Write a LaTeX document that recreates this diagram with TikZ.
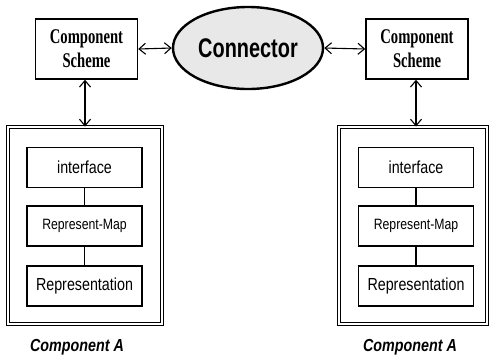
\documentclass[tikz,border=0pt]{standalone}
\usepackage{fontspec}
\usetikzlibrary{arrows.meta,shapes.geometric}
\setmainfont{Liberation Serif}
\newfontfamily\schemefont[FakeStretch=0.7]{Liberation Serif}
\newfontfamily\narrowsans[FakeStretch=0.82]{Liberation Sans}
\newfontfamily\connfont[FakeStretch=0.74]{Liberation Sans}
\begin{document}
\begin{tikzpicture}[x=1bp,y=-1bp,
  tip/.tip={Straight Barb[length=6.5bp,width=11bp,line width=1.1bp]},
  schemebox/.style={draw,line width=1.4bp,minimum width=102bp,minimum height=60bp,
    align=center,inner sep=0pt,font=\schemefont\bfseries\fontsize{21}{24}\selectfont},
  layerbox/.style={draw,line width=1.3bp,minimum width=115bp,minimum height=40bp,inner sep=0pt},
  outerbox/.style={draw,double,double distance=1.8bp,line width=0.9bp,inner sep=0pt},
  link/.style={line width=1.1bp,tip-tip},
  plain/.style={line width=1.1bp},
  caption/.style={font=\narrowsans\bfseries\itshape\fontsize{17.5}{20}\selectfont}
]
\useasboundingbox (0,0) rectangle (489,356);

% connector in the middle
\node[ellipse,draw,line width=2.4bp,fill=gray!18,minimum width=150bp,minimum height=82bp,
  inner sep=0pt,font=\connfont\bfseries\fontsize{27}{30}\selectfont] (conn) at (248,48) {Connector};

% component schemes
\node[schemebox] (ls) at (86.5,49) {Component\\Scheme};
\node[schemebox] (rs) at (417,49) {Component\\Scheme};

% left component
\node[outerbox,minimum width=154bp,minimum height=197bp] (lo) at (85,225.5) {};
\node[layerbox,font=\narrowsans\fontsize{17.5}{20}\selectfont] (li) at (84.5,167.5) {interface};
\node[layerbox,font=\narrowsans\fontsize{15}{18}\selectfont] (lm) at (84.5,226) {Represent-Map};
\node[layerbox,font=\narrowsans\fontsize{17.5}{20}\selectfont] (lr) at (84.5,286) {Representation};
\node[caption] (la) at (77,347) {Component A};

% right component
\node[outerbox,minimum width=148bp,minimum height=197bp] (ro) at (413,225.5) {};
\node[layerbox,font=\narrowsans\fontsize{17.5}{20}\selectfont] (ri) at (416,167.5) {interface};
\node[layerbox,font=\narrowsans\fontsize{15}{18}\selectfont] (rm) at (416,226) {Represent-Map};
\node[layerbox,font=\narrowsans\fontsize{17.5}{20}\selectfont] (rr) at (416,286) {Representation};
\node[caption] (ra) at (410,347) {Component A};

% connections
\draw[link] (ls.east) -- (conn.west);
\draw[link] (conn.east) -- (rs.west);
\draw[link] (lo.north) -- (lo.north |- ls.south);
\draw[link] (ri.north |- ro.north) -- (ri.north |- rs.south);
\draw[plain] (li) -- (lm);
\draw[plain] (lm) -- (lr);
\draw[plain] (ri) -- (rm);
\draw[plain] (rm) -- (rr);
\end{tikzpicture}
\end{document}
